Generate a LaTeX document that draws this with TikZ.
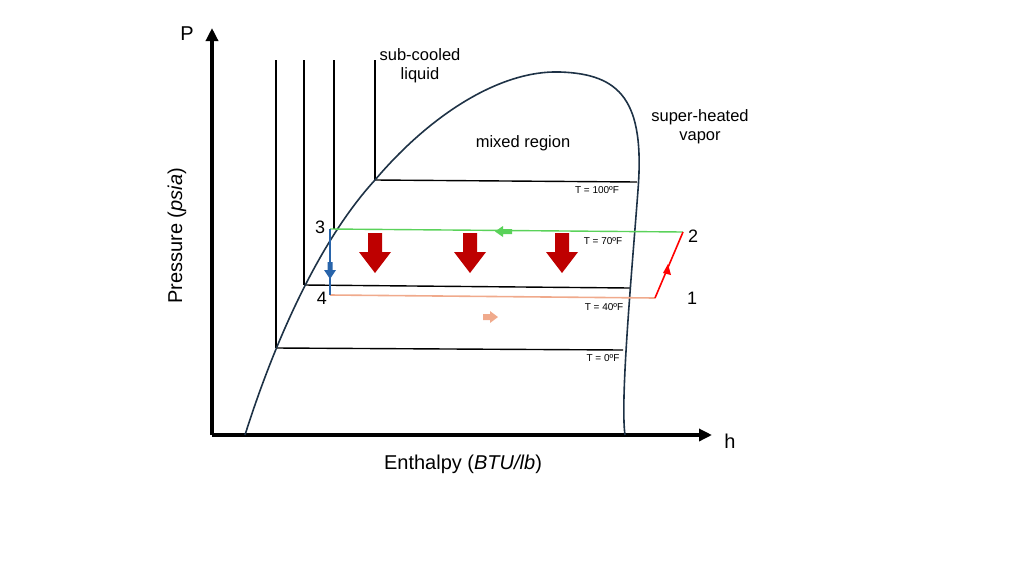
\documentclass[tikz,border=0pt]{standalone}
\usepackage{fontspec}
\setmainfont{Liberation Sans}
\usetikzlibrary{arrows.meta}
\definecolor{cblue}{RGB}{40,100,170}
\definecolor{cgreen}{RGB}{90,210,90}
\definecolor{corange}{RGB}{240,170,140}
\definecolor{cdome}{RGB}{30,50,70}
\definecolor{cbig}{RGB}{190,0,0}
\begin{document}
\begin{tikzpicture}[x=1pt,y=-1pt,
  thin/.style={draw=black,line width=1.4pt},
  tlab/.style={font=\fontsize{10}{11}\selectfont,inner sep=0},
  num/.style={font=\fontsize{18}{19}\selectfont,inner sep=0},
  lab/.style={font=\fontsize{16.5}{19}\selectfont,align=center,inner sep=0},
  bigarr/.style={fill=cbig,draw=none},
  axis/.style={line width=3.5pt,-{Triangle[length=13pt,width=12pt]}}]
\useasboundingbox (0,0) rectangle (1024,576);
% axes
\coordinate (O) at (212,435);
\coordinate (Ptop) at (212,28);
\coordinate (Hend) at (712,435);
\draw[axis] (O) -- (Ptop);
\draw[axis] (O) -- (Hend);
% vertical lines
\foreach \x/\y in {276/348,304/285,334/229,375/180} \draw[thin] (\x,60) -- (\x,\y);
% isotherms
\draw[thin] (375,180) -- (637,182);
\draw[thin] (304,285) -- (630,288);
\draw[thin] (276,348) -- (623,350);
% dome
\draw[line width=1.6pt,draw=cdome]
  (245,435) .. controls (275,340) and (320,240) .. (375,180)
  .. controls (430,115) and (500,70) .. (560,72)
  .. controls (620,74) and (645,100) .. (638,190)
  .. controls (632,270) and (620,400) .. (625,435);
% cycle
\coordinate (p3) at (330,229);
\coordinate (p2) at (683,232);
\coordinate (p1) at (655,298);
\coordinate (p4) at (330,295);
\draw[cgreen,line width=1.4pt] (p3) -- (p2);
\draw[corange,line width=1.6pt] (p4) -- (p1);
\draw[red,line width=1.6pt] (p1) -- (p2);
\draw[cblue,line width=1.6pt] (p3) -- (p4);
% small arrows
\fill[cblue] (327.5,262) rectangle (332.5,270) (324,270) -- (336,270) -- (330,279) -- cycle;
\fill[cgreen] (512,229) rectangle (502,234) (503,226) -- (503,237) -- (495,231.5) -- cycle;
\fill[corange] (483,314) rectangle (491,320) (490,311) -- (490,323) -- (498,317) -- cycle;
\fill[red] (663,273) -- (668,264) -- (671,275) -- cycle;
% big arrows
\foreach \x in {375,470,562}
  \fill[bigarr] (\x-7,233) -- (\x+7,233) -- (\x+7,252) -- (\x+16,252) -- (\x,273) -- (\x-16,252) -- (\x-7,252) -- cycle;
% labels
\node[tlab] (t100) at (597,190) {T = 100ºF};
\node[tlab] (t70) at (603,241) {T = 70ºF};
\node[tlab] (t40) at (604,307) {T = 40ºF};
\node[tlab] (t0) at (603,358) {T = 0ºF};
\node[num] (n3) at (320,227) {3};
\node[num] (n4) at (322,298) {4};
\node[num] (n1) at (692,298) {1};
\node[num] (n2) at (693,236) {2};
\node[lab] (sub) at (420,66) {sub-cooled\\liquid};
\node[lab] (mix) at (523,143) {mixed region};
\node[lab] (sup) at (700,127) {super-heated\\vapor};
\node[font=\fontsize{20}{22}\selectfont] (P) at (187,34) {P};
\node[font=\fontsize{20}{22}\selectfont] (h) at (730,441) {h};
\node[font=\fontsize{20}{22}\selectfont] (en) at (463,464) {Enthalpy (\textit{BTU/lb})};
\node[font=\fontsize{20}{22}\selectfont,rotate=90] (pr) at (177,236) {Pressure (\textit{psia})};
\end{tikzpicture}
\end{document}
